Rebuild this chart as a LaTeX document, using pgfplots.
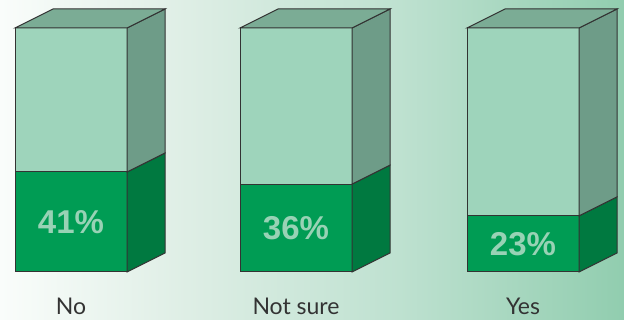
\documentclass[border=0pt]{standalone}
\usepackage{pgfplots}
\usepackage{pgfplotstable}
\pgfplotsset{compat=1.18}
\usepackage{fontspec}
\setmainfont{Lato}
\newfontfamily\pctfont{Liberation Sans}
\definecolor{lightfront}{RGB}{158,212,187}
\definecolor{lightside}{RGB}{110,156,136}
\definecolor{topface}{RGB}{123,172,149}
\definecolor{darkfront}{RGB}{0,156,84}
\definecolor{darkside}{RGB}{0,121,64}
\definecolor{edge}{RGB}{51,51,51}
\definecolor{pcttext}{RGB}{152,210,181}
\definecolor{bgA}{RGB}{250,253,251}
\definecolor{bgB}{RGB}{222,238,229}
\definecolor{bgC}{RGB}{190,225,208}
\definecolor{bgD}{RGB}{145,205,175}
\pgfdeclarehorizontalshading{bgshade}{100bp}{color(0bp)=(bgA); color(25bp)=(bgA); color(40bp)=(bgB); color(57bp)=(bgC); color(75bp)=(bgD); color(100bp)=(bgD)}
\pgfplotstableread{
x v rest
71 41 59
296 36 64
523 23 77
}\data
\pgfplotsset{base/.style={hide axis, scale only axis,
  width=624pt, height=320pt, at={(0,0)}, anchor=south west,
  xmin=0, xmax=624, ymin=-19.672, ymax=111.475, clip=false}}
\begin{document}
\begin{tikzpicture}
\shade[shading=bgshade] (0,0) rectangle (624pt,320pt);
\begin{axis}[base, ybar stacked, bar width=112]
\addplot[fill=darkfront, draw=edge, line width=1pt] table[x=x,y=v]{\data};
\addplot[fill=lightfront, draw=edge, line width=1pt] table[x=x,y=rest]{\data};
\end{axis}
\begin{axis}[base]
% bar 1 (x 15..127, v=41)
\addplot[fill=darkside, draw=edge, line width=1pt] coordinates {(127,0) (165,7.787) (165,48.787) (127,41)} -- cycle;
\addplot[fill=lightside, draw=edge, line width=1pt] coordinates {(127,41) (165,48.787) (165,107.787) (127,100)} -- cycle;
\addplot[fill=topface, draw=edge, line width=1pt] coordinates {(15,100) (53,107.787) (165,107.787) (127,100)} -- cycle;
% bar 2 (x 240..352, v=36)
\addplot[fill=darkside, draw=edge, line width=1pt] coordinates {(352,0) (390,7.787) (390,43.787) (352,36)} -- cycle;
\addplot[fill=lightside, draw=edge, line width=1pt] coordinates {(352,36) (390,43.787) (390,107.787) (352,100)} -- cycle;
\addplot[fill=topface, draw=edge, line width=1pt] coordinates {(240,100) (278,107.787) (390,107.787) (352,100)} -- cycle;
% bar 3 (x 467..579, v=23)
\addplot[fill=darkside, draw=edge, line width=1pt] coordinates {(579,0) (617,7.787) (617,30.787) (579,23)} -- cycle;
\addplot[fill=lightside, draw=edge, line width=1pt] coordinates {(579,23) (617,30.787) (617,107.787) (579,100)} -- cycle;
\addplot[fill=topface, draw=edge, line width=1pt] coordinates {(467,100) (505,107.787) (617,107.787) (579,100)} -- cycle;
% percentage labels
\node[text=pcttext, font=\pctfont\bfseries\fontsize{33}{37}\selectfont] at (axis cs:71,20.5) {41\%};
\node[text=pcttext, font=\pctfont\bfseries\fontsize{33}{37}\selectfont] at (axis cs:296,18) {36\%};
\node[text=pcttext, font=\pctfont\bfseries\fontsize{33}{37}\selectfont] at (axis cs:523,11.5) {23\%};
% category labels
\node[text=edge, font=\fontsize{23}{27}\selectfont, anchor=base] at (axis cs:71,-17.6) {No};
\node[text=edge, font=\fontsize{23}{27}\selectfont, anchor=base] at (axis cs:296,-17.6) {Not sure};
\node[text=edge, font=\fontsize{23}{27}\selectfont, anchor=base] at (axis cs:523,-17.6) {Yes};
\end{axis}
\end{tikzpicture}
\end{document}
